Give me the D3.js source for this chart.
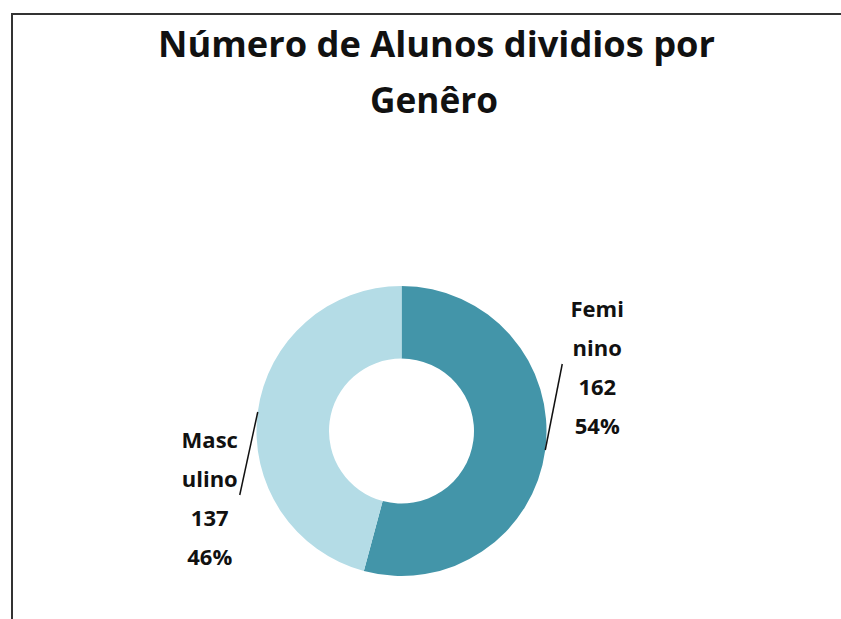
<!DOCTYPE html>
<html>
<head>
<meta charset="utf-8">
<script src="https://cdn.jsdelivr.net/npm/d3@7"></script>
<style>
  body { margin: 0; background: #fff; }
  text { font-family: "Open Sans", "Noto Sans", sans-serif; font-weight: bold; fill: #111; }
</style>
</head>
<body>
<svg id="chart" width="841" height="619"></svg>
<script>
// dados
var categorias = ["Feminino", "Masculino"];
var valores = [162, 137];
// rótulos quebrados como no original
var rotulos = [["Femi", "nino"], ["Masc", "ulino"]];
var cores = ["#4395a9", "#b4dce6"];
var tituloLinhas = ["Número de Alunos dividios por", "Genêro"];

var W = 841, H = 619;
var cx = 401.5, cy = 431, rOut = 145, rIn = 72.5;

var svg = d3.select("#chart");

// borda do gráfico (só esquerda e topo visíveis)
svg.append("path")
  .attr("d", "M12,619 L12,14 L841,14")
  .attr("fill", "none")
  .attr("stroke", "#333")
  .attr("stroke-width", 2);

// titulo
var tit = svg.append("g");
tit.selectAll("text")
  .data(tituloLinhas)
  .join("text")
  .attr("x", (d, i) => i == 0 ? 436.5 : 434)
  .attr("y", (d, i) => 57 + i * 56)
  .attr("text-anchor", "middle")
  .style("font-size", "35px")
  .text(d => d)
  .each(function(d, i) {
    // o original usa fonte mais estreita (Calibri) — ajustar largura
    var alvo = i == 0 ? 557 : 128;
    d3.select(this).attr("textLength", alvo).attr("lengthAdjust", "spacingAndGlyphs");
  });

// rosca
var total = d3.sum(valores);
var pie = d3.pie().sort(null).value(d => d);
var arcs = pie(valores);
var arc = d3.arc().innerRadius(rIn).outerRadius(rOut);

var g = svg.append("g").attr("transform", `translate(${cx},${cy})`);
g.selectAll("path")
  .data(arcs)
  .join("path")
  .attr("d", arc)
  .attr("fill", (d, i) => cores[i]);

// rótulos com linha guia
// deslocamento da ponta da linha e do bloco de texto em relação ao ponto do arco
var offsets = [
  { line: [17, -86], text: [52, -133] },
  { line: [-18, 83], text: [-48, 36] }
];

arcs.forEach(function(a, i) {
  var mid = (a.startAngle + a.endAngle) / 2;
  var px = cx + rOut * Math.sin(mid);
  var py = cy - rOut * Math.cos(mid);
  var o = offsets[i];
  svg.append("line")
    .attr("x1", px).attr("y1", py)
    .attr("x2", px + o.line[0]).attr("y2", py + o.line[1])
    .attr("stroke", "#111")
    .attr("stroke-width", 1.5);

  var pct = Math.round(valores[i] / total * 100) + "%";
  var linhas = rotulos[i].concat([String(valores[i]), pct]);
  svg.append("g").selectAll("text")
    .data(linhas)
    .join("text")
    .attr("x", px + o.text[0])
    .attr("y", (d, k) => py + o.text[1] + k * 39)
    .attr("text-anchor", "middle")
    .style("font-size", "22px")
    .text(d => d);
});
</script>
</body>
</html>
